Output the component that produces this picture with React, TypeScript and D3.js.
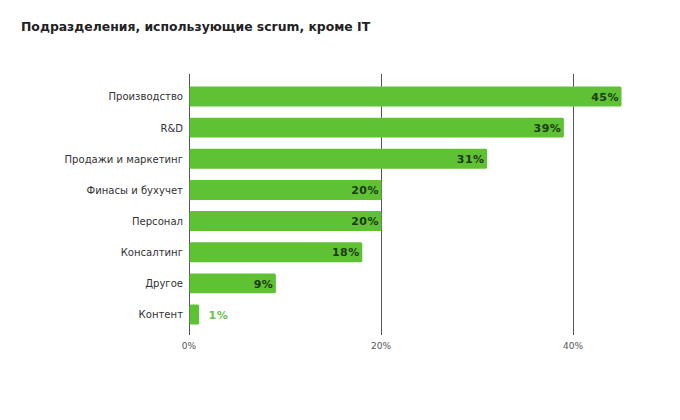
import { useEffect, useRef } from 'react';
import * as d3 from 'd3';

const categories = [
  'Производство',
  'R&D',
  'Продажи и маркетинг',
  'Финасы и бухучет',
  'Персонал',
  'Консалтинг',
  'Другое',
  'Контент',
];
const values = [45, 39, 31, 20, 20, 18, 9, 1];
const ticks = [0, 20, 40];
const title = 'Подразделения, использующие scrum, кроме IT';

export default function App() {
  const ref = useRef<SVGSVGElement>(null);

  useEffect(() => {
    if (!ref.current) return;
    const svg = d3.select(ref.current);
    svg.selectAll('*').remove();

    const width = 680;
    const height = 420;
    const left = 189;
    const top = 74;
    const bottom = 335;

    svg.attr('width', width).attr('height', height);

    svg.append('rect').attr('width', width).attr('height', height).attr('fill', '#fff');

    svg.append('text')
      .attr('x', 21)
      .attr('y', 31)
      .attr('font-family', 'DejaVu Sans')
      .attr('font-weight', 'bold')
      .attr('font-size', 12.4)
      .attr('fill', '#222')
      .text(title);

    const x = d3.scaleLinear().domain([0, 40]).range([left, left + 384]);
    const y = d3.scaleBand()
      .domain(categories)
      .range([top, 337])
      .paddingInner(0.36)
      .paddingOuter(0.4);

    // gridlines
    svg.append('g')
      .selectAll('line')
      .data(ticks)
      .enter()
      .append('line')
      .attr('x1', d => x(d))
      .attr('x2', d => x(d))
      .attr('y1', top)
      .attr('y2', bottom)
      .attr('stroke', '#555')
      .attr('stroke-width', 1)
      .attr('shape-rendering', 'crispEdges');

    // tick labels
    svg.append('g')
      .selectAll('text')
      .data(ticks)
      .enter()
      .append('text')
      .attr('x', d => x(d))
      .attr('y', 349)
      .attr('text-anchor', 'middle')
      .attr('font-family', 'DejaVu Sans')
      .attr('font-size', 9)
      .attr('fill', '#555')
      .text(d => `${d}%`);

    // category labels
    svg.append('g')
      .selectAll('text')
      .data(categories)
      .enter()
      .append('text')
      .attr('x', left - 6)
      .attr('y', d => (y(d) || 0) + y.bandwidth() / 2)
      .attr('dy', '0.35em')
      .attr('text-anchor', 'end')
      .attr('font-family', 'DejaVu Sans Condensed')
      .attr('font-size', 11.2)
      .attr('fill', '#333')
      .text(d => d);

    // bars
    svg.append('g')
      .selectAll('rect')
      .data(values)
      .enter()
      .append('rect')
      .attr('x', x(0) + 0.5)
      .attr('y', (d, i) => y(categories[i]) || 0)
      .attr('width', d => x(d) - x(0))
      .attr('height', y.bandwidth())
      .attr('rx', 1.5)
      .attr('fill', '#5fc234');

    // value labels
    svg.append('g')
      .selectAll('text')
      .data(values)
      .enter()
      .append('text')
      .attr('x', d => (d < 5 ? x(d) + 10 : x(d) - 2))
      .attr('y', (d, i) => (y(categories[i]) || 0) + y.bandwidth() / 2)
      .attr('dy', '0.38em')
      .attr('text-anchor', d => (d < 5 ? 'start' : 'end'))
      .attr('font-family', 'DejaVu Sans')
      .attr('font-weight', 'bold')
      .attr('font-size', 11)
      .attr('letter-spacing', 0.5)
      .attr('fill', d => (d < 5 ? '#6cc24a' : '#1d3a12'))
      .text(d => `${d}%`);
  }, []);

  return (
    <svg
      ref={ref}
      style={{ position: 'absolute', left: 0, top: 0, display: 'block' }}
    />
  );
}
